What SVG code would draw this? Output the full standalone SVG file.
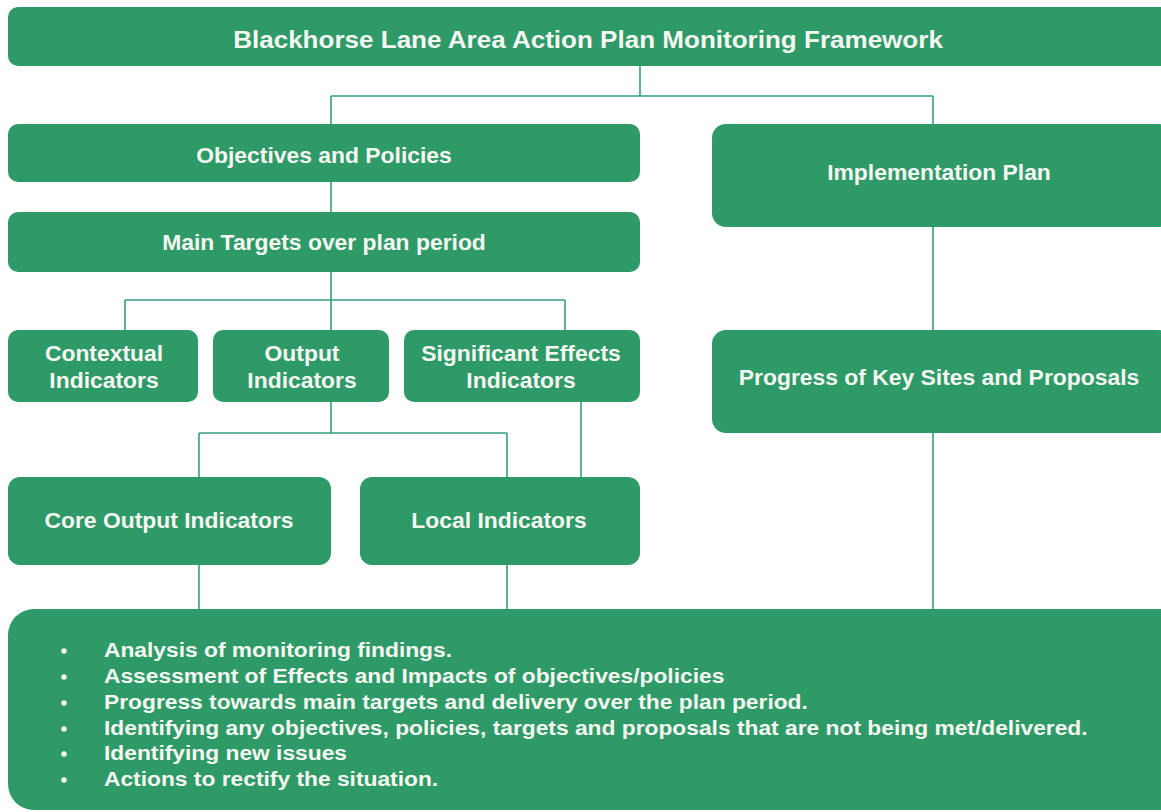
<svg xmlns="http://www.w3.org/2000/svg" width="1161" height="812" viewBox="0 0 1161 812">
<style>
.box{fill:#2e9a67;}
.lbl{font-family:"Liberation Sans",Arial,sans-serif;font-weight:bold;fill:#f6f7f2;text-anchor:middle;font-size:22px;}
.ttl{font-size:24px;}
.bul{font-family:"Liberation Sans",Arial,sans-serif;font-weight:bold;fill:#f6f7f2;font-size:21px;}
.con{stroke:#35a07a;stroke-width:1.6;fill:none;}
</style>
<rect width="1161" height="812" fill="#ffffff"/>
<g id="connectors">
<path class="con" d="M640 66V96M331 96H933M331 96V124M933 96V124"/>
<path class="con" d="M331 182V212"/>
<path class="con" d="M331 272V300M125 300H565M125 300V330M331 300V330M565 300V330"/>
<path class="con" d="M331 402V433M199 433H507M199 433V477M507 433V477"/>
<path class="con" d="M581 402V477"/>
<path class="con" d="M199 565V609M507 565V609"/>
<path class="con" d="M933 227V330M933 433V609"/>
</g>
<g id="title">
<rect class="box" x="8" y="7" width="1165" height="59" rx="10"/>
<text class="lbl ttl" transform="translate(588 48) scale(1.085 1)">Blackhorse Lane Area Action Plan Monitoring Framework</text>
</g>
<g id="objectives">
<rect class="box" x="8" y="124" width="632" height="58" rx="10"/>
<text class="lbl" transform="translate(324 163) scale(1.04 1)">Objectives and Policies</text>
</g>
<g id="main-targets">
<rect class="box" x="8" y="212" width="632" height="60" rx="10"/>
<text class="lbl" transform="translate(324 250) scale(1.04 1)">Main Targets over plan period</text>
</g>
<g id="implementation">
<rect class="box" x="712" y="124" width="460" height="103" rx="14"/>
<text class="lbl" transform="translate(939 180) scale(1.04 1)">Implementation Plan</text>
</g>
<g id="progress">
<rect class="box" x="712" y="330" width="460" height="103" rx="14"/>
<text class="lbl" transform="translate(939 385) scale(1.04 1)">Progress of Key Sites and Proposals</text>
</g>
<g id="contextual">
<rect class="box" x="8" y="330" width="190" height="72" rx="10"/>
<text class="lbl" transform="translate(104 361) scale(1.04 1)">Contextual</text>
<text class="lbl" transform="translate(104 388) scale(1.04 1)">Indicators</text>
</g>
<g id="output">
<rect class="box" x="213" y="330" width="176" height="72" rx="10"/>
<text class="lbl" transform="translate(302 361) scale(1.04 1)">Output</text>
<text class="lbl" transform="translate(302 388) scale(1.04 1)">Indicators</text>
</g>
<g id="significant">
<rect class="box" x="404" y="330" width="236" height="72" rx="10"/>
<text class="lbl" transform="translate(521 361) scale(1.04 1)">Significant Effects</text>
<text class="lbl" transform="translate(521 388) scale(1.04 1)">Indicators</text>
</g>
<g id="core-output">
<rect class="box" x="8" y="477" width="323" height="88" rx="12"/>
<text class="lbl" transform="translate(169 528) scale(1.04 1)">Core Output Indicators</text>
</g>
<g id="local">
<rect class="box" x="360" y="477" width="280" height="88" rx="12"/>
<text class="lbl" transform="translate(499 528) scale(1.04 1)">Local Indicators</text>
</g>
<g id="analysis">
<rect class="box" x="8" y="609" width="1180" height="201" rx="26"/>
<g fill="#f6f7f2">
<circle cx="64" cy="651" r="2.7"/>
<circle cx="64" cy="677" r="2.7"/>
<circle cx="64" cy="703" r="2.7"/>
<circle cx="64" cy="729" r="2.7"/>
<circle cx="64" cy="754" r="2.7"/>
<circle cx="64" cy="780" r="2.7"/>
</g>
<g transform="translate(104 0) scale(1.085 1)">
<text class="bul" x="0" y="657">Analysis of monitoring findings.</text>
<text class="bul" x="0" y="683">Assessment of Effects and Impacts of objectives/policies</text>
<text class="bul" x="0" y="709">Progress towards main targets and delivery over the plan period.</text>
<text class="bul" x="0" y="735">Identifying any objectives, policies, targets and proposals that are not being met/delivered.</text>
<text class="bul" x="0" y="760">Identifying new issues</text>
<text class="bul" x="0" y="786">Actions to rectify the situation.</text>
</g>
</g>
</svg>
